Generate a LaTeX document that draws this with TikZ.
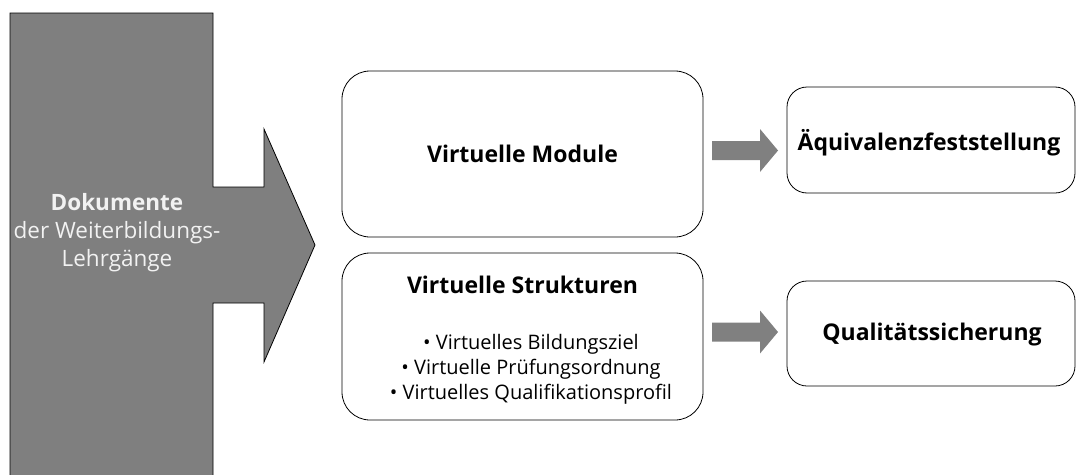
\documentclass[tikz,border=0pt]{standalone}
\usepackage{fontspec}
\setmainfont{Open Sans}
\begin{document}
\begin{tikzpicture}[x=1pt,y=-1pt,
  bigarrow/.style={fill={rgb,255:red,127;green,127;blue,127}, draw=black, line width=0.8pt, line join=miter},
  blockarrow/.style={fill={rgb,255:red,128;green,128;blue,128}},
  leftbox/.style={draw=black, line width=0.8pt, rounded corners=28pt, minimum width=361pt, inner sep=0pt},
  rightbox/.style={draw=black, line width=0.8pt, rounded corners=20pt, minimum width=288pt, inner sep=0pt},
  boldtxt/.style={font=\fontsize{23}{27}\selectfont\bfseries, inner sep=0pt},
  listtxt/.style={font=\fontsize{20}{25}\selectfont, align=center, inner sep=0pt},
  doctxt/.style={text={rgb,255:red,242;green,242;blue,242}, font=\fontsize{22.5}{28}\selectfont, align=center, inner sep=0pt}
]
\useasboundingbox (0,0) rectangle (1076,474);
\clip (0,0) rectangle (1076,474);
\fill[white] (0,0) rectangle (1076,474);
% large arrow
\draw[bigarrow] (10,490) -- (10,13) -- (213,13) -- (213,187) -- (264,187) -- (264,129) -- (315,245) -- (264,362) -- (264,303) -- (213,303) -- (213,490);
\node[doctxt] (doc) at (117,233) {\textbf{Dokumente}\\der Weiterbildungs-\\Lehrgänge};
% left boxes
\node[leftbox, minimum height=166pt] (mod) at (522.5,154) {};
\node[boldtxt] (modt) at (mod.center) {Virtuelle Module};
\node[leftbox, minimum height=167pt] (str) at (522.5,336.5) {};
\node[boldtxt] (strt) at (522.5,285) {Virtuelle Strukturen};
\node[listtxt, anchor=north] (strl) at (531,334) {•\ Virtuelles Bildungsziel\\•\ Virtuelle Prüfungsordnung\\•\ Virtuelles Qualifikationsprofil};
% right boxes
\node[rightbox, minimum height=106pt] (aeq) at (931,140) {};
\node[boldtxt] (aeqt) at (929,143) {Äquivalenzfeststellung};
\node[rightbox, minimum height=105pt] (qs) at (931,333.5) {};
\node[boldtxt] (qst) at (932,335) {Qualitätssicherung};
% block arrows
\coordinate (a1) at (712,150.5);
\coordinate (a2) at (712,332);
\foreach \c in {a1,a2}{
  \fill[blockarrow] (\c) ++(0,-9.5) -- ++(48,0) -- ++(0,-12) -- ++(18,21.5) -- ++(-18,21.5) -- ++(0,-12) -- ++(-48,0) -- cycle;
}
\end{tikzpicture}
\end{document}
